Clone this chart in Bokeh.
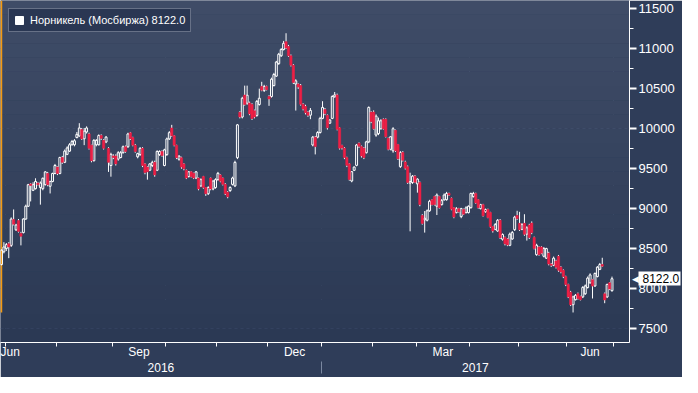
import numpy as np
import pandas as pd
from bokeh.plotting import figure
from bokeh.models import (FixedTicker, LinearAxis, Range1d, Legend, LegendItem,
                          BoxAnnotation)
from bokeh.embed import file_html
from bokeh.resources import INLINE

# ---------------- data ----------------
TITLE = "Норникель (Мосбиржа) 8122.0"
LAST = 8122.0
HOLIDAYS = ["2016-11-04", "2017-01-02", "2017-02-23", "2017-02-24", "2017-03-08",
            "2017-05-01", "2017-05-08", "2017-05-09", "2017-06-12"]

opens = [8300, 8460, 8500, 8560, 8540, 8865, 8735, 8850, 8690, 8700, 8870, 9030, 9310, 9230, 9250, 9320,
         9265, 9250, 9300, 9440, 9280, 9340, 9440, 9520, 9440, 9640, 9580, 9680, 9720, 9800, 9800, 9890,
         9910, 9990, 9875, 9960, 9935, 9795, 9600, 9800, 9800, 9915, 9855, 9835, 9755, 9540, 9660, 9660,
         9620, 9640, 9700, 9775, 9775, 9950, 9890, 9795,
         9649, 9677, 9755, 9560, 9520, 9481, 9540, 9580, 9481, 9677, 9716, 9540, 9677, 9873, 10010, 9912,
         9794, 9618, 9638, 9560, 9481, 9402, 9461, 9442, 9383, 9383, 9285, 9402, 9265, 9187, 9383, 9246,
         9265, 9363, 9422, 9383, 9304, 9206, 9226, 9304, 9285, 9638, 10206, 10147, 10422, 10320, 10324,
         10304, 10226, 10167, 10304,
         10530, 10480, 10530, 10404, 10404, 10541, 10659, 10816, 10914, 10992, 11090, 11031, 10914, 10796,
         10560, 10561, 10541, 10306, 10280, 10208, 10170, 9797, 9895, 9895, 9953, 10130, 10240, 10169,
         10070, 10130, 10400, 10424, 10012, 9790, 9757, 9640, 9561, 9346, 9480, 9542, 9820, 9777, 9757,
         9700, 9836, 10208, 10210, 9921, 9940, 10000, 10118, 10118, 9881, 9743, 9724, 9980, 9802, 9526,
         9704, 9585, 9526, 9320, 9328, 9407, 9310, 9328, 8914, 8860, 8855, 8973, 9110, 9151, 9030, 9151,
         9050, 9110, 9112, 9190, 9131, 9012, 8950, 9000, 8900, 8990, 8950, 8950, 9012, 9150, 9190, 9112,
         9000, 9050, 8960, 8990, 8953, 8776, 8740, 8720, 8855,
         8617, 8640, 8620, 8541, 8620, 8737, 8914, 8816, 8740, 8816, 8680, 8796, 8820, 8639, 8424, 8520,
         8520, 8404, 8380, 8443, 8306, 8290, 8345, 8404, 8267, 8228, 8149, 8051, 7954, 7797, 7860, 7935,
         7900, 7895, 7934, 8012, 8071, 8110, 8032, 8149, 8240, 8300, 7934, 7895, 8071, 7973]
highs = [8490, 8580, 8570, 8580, 8890, 8990, 8810, 8870, 8710, 8880, 9050, 9310, 9320, 9330, 9380, 9330,
         9340, 9390, 9470, 9460, 9350, 9450, 9560, 9530, 9650, 9660, 9740, 9780, 9820, 9860, 9870, 9960,
         10070, 10010, 10010, 10030, 9950, 9800, 9870, 9870, 9930, 9930, 9870, 9910, 9770, 9700, 9680, 9680,
         9720, 9720, 9790, 9790, 9950, 9960, 9900, 9810,
         9700, 9770, 9770, 9570, 9530, 9570, 9600, 9600, 9730, 9730, 9730, 9750, 9890, 9970, 10049, 9920,
         9800, 9670, 9650, 9570, 9490, 9470, 9470, 9450, 9470, 9390, 9380, 9410, 9270, 9280, 9390, 9360,
         9380, 9460, 9430, 9390, 9320, 9220, 9280, 9400, 9600, 10060, 10220, 10400, 10540, 10540, 10340,
         10320, 10240, 10360, 10502,
         10588, 10550, 10540, 10420, 10640, 10700, 10850, 10950, 11010, 11100, 11196, 11050, 10930, 10810,
         10620, 10570, 10560, 10320, 10300, 10220, 10260, 9910, 9910, 9970, 10150, 10345, 10260, 10180,
         10120, 10420, 10460, 10440, 10020, 9800, 9770, 9650, 9570, 9470, 9530, 9810, 9830, 9790, 9770,
         9850, 10280, 10220, 10230, 10180, 10140, 10120, 10130, 10130, 9890, 9910, 10020, 9990, 9810, 9720,
         9720, 9600, 9540, 9450, 9420, 9420, 9380, 9340, 8930, 8970, 8990, 9110, 9120, 9160, 9190, 9160,
         9120, 9190, 9210, 9200, 9140, 9020, 9020, 9010, 9010, 9000, 9030, 9040, 9200, 9210, 9200, 9120,
         9060, 9060, 9000, 9000, 8960, 8780, 8820, 8870, 8870,
         8690, 8650, 8630, 8700, 8720, 8910, 8973, 8960, 8820, 8930, 8780, 8810, 8840, 8650, 8560, 8530,
         8530, 8520, 8510, 8460, 8320, 8400, 8360, 8420, 8280, 8240, 8160, 8060, 7970, 7910, 7930, 7950,
         7910, 8030, 8050, 8150, 8190, 8120, 8200, 8280, 8320, 8385, 7950, 8060, 8080, 8149]
lows = [8290, 8440, 8470, 8380, 8520, 8790, 8720, 8700, 8540, 8690, 8860, 9020, 9090, 9220, 9240, 9290,
        9050, 9230, 9290, 9280, 9190, 9330, 9430, 9420, 9430, 9560, 9570, 9670, 9710, 9790, 9780, 9880,
        9900, 9860, 9795, 9940, 9740, 9580, 9590, 9780, 9790, 9860, 9740, 9820, 9460, 9400, 9620, 9540,
        9600, 9630, 9690, 9700, 9760, 9860, 9780, 9700,
        9630, 9660, 9520, 9430, 9363, 9470, 9520, 9400, 9470, 9660, 9650, 9530, 9660, 9860, 9900, 9780,
        9620, 9600, 9500, 9480, 9370, 9390, 9390, 9370, 9370, 9230, 9270, 9250, 9160, 9170, 9230, 9230,
        9250, 9350, 9330, 9290, 9170, 9130, 9210, 9290, 9270, 9620, 10130, 10130, 10290, 10300, 10170,
        10110, 10130, 10150, 10290,
        10470, 10460, 10480, 10287, 10390, 10530, 10650, 10800, 10900, 10980, 11000, 10900, 10780, 10560,
        10228, 10500, 10290, 10230, 10180, 10150, 10120, 9780, 9679, 9880, 9940, 10120, 10170, 9990,
        10060, 10120, 10390, 9980, 9740, 9740, 9620, 9520, 9350, 9330, 9470, 9530, 9760, 9640, 9620,
        9690, 9820, 10070, 9990, 9900, 9920, 9990, 9990, 9890, 9730, 9730, 9700, 9710, 9610, 9510,
        9590, 9490, 9310, 8716, 9310, 9320, 9200, 9030, 8800, 8700, 8840, 8960, 9040, 9040, 8920, 9000,
        9040, 9100, 9100, 9160, 8980, 8880, 8940, 8950, 8880, 8920, 8940, 8940, 9000, 9140, 9060, 9000,
        8990, 8900, 8950, 8880, 8760, 8700, 8730, 8710, 8620,
        8600, 8540, 8530, 8530, 8610, 8720, 8860, 8720, 8730, 8660, 8600, 8620, 8680, 8490, 8410, 8410,
        8430, 8390, 8370, 8290, 8270, 8280, 8250, 8210, 8190, 8130, 8030, 7880, 7780, 7700, 7850, 7860,
        7850, 7880, 7920, 8000, 8060, 7875, 8020, 8140, 8230, 8270, 7816, 7880, 7980, 7960]
closes = [8480, 8520, 8550, 8520, 8870, 8805, 8795, 8715, 8655, 8870, 9030, 9300, 9290, 9300, 9340, 9300,
          9320, 9380, 9460, 9300, 9340, 9440, 9540, 9440, 9640, 9580, 9720, 9760, 9800, 9840, 9850, 9930,
          10010, 9875, 9970, 10010, 9755, 9600, 9855, 9855, 9915, 9880, 9755, 9895, 9580, 9680, 9640, 9560,
          9700, 9700, 9775, 9715, 9935, 9875, 9795, 9715,
          9689, 9755, 9540, 9453, 9461, 9560, 9580, 9422, 9716, 9716, 9665, 9736, 9873, 9951, 9912, 9794,
          9638, 9657, 9520, 9500, 9383, 9461, 9402, 9383, 9461, 9246, 9363, 9265, 9187, 9265, 9246, 9344,
          9363, 9442, 9344, 9304, 9187, 9148, 9265, 9383, 9579, 10049, 10147, 10382, 10304, 10420, 10186,
          10128, 10147, 10343, 10382,
          10483, 10530, 10490, 10373, 10620, 10679, 10835, 10933, 10992, 11070, 11012, 10914, 10796, 10580,
          10600, 10522, 10306, 10247, 10200, 10169, 10230, 9895, 9777, 9953, 10130, 10267, 10190, 10012,
          10110, 10404, 10424, 9993, 9757, 9760, 9640, 9542, 9365, 9463, 9520, 9797, 9780, 9659, 9640,
          9836, 10267, 10090, 10000, 10158, 10100, 10100, 10000, 9901, 9743, 9900, 10000, 9724, 9625, 9704,
          9605, 9506, 9328, 9340, 9407, 9330, 9370, 9052, 8815, 8880, 8973, 9092, 9050, 9052, 9170, 9012,
          9100, 9170, 9190, 9170, 8993, 8894, 9000, 8960, 9000, 8930, 9010, 9030, 9190, 9190, 9072, 9012,
          9050, 8910, 8990, 8890, 8776, 8720, 8800, 8855, 8637,
          8676, 8560, 8545, 8680, 8700, 8894, 8875, 8737, 8800, 8678, 8760, 8639, 8700, 8502, 8541, 8424,
          8443, 8500, 8500, 8306, 8290, 8380, 8267, 8228, 8208, 8149, 8051, 7895, 7797, 7895, 7915, 7875,
          7860, 8012, 8032, 8130, 8170, 8030, 8189, 8267, 8300, 8280, 7856, 8051, 7993, 8122]

MONTH_LABELS = ["Jun", "Sep", "Dec", "Mar", "Jun"]
YEAR_LABELS = ["2016", "2017"]
Y_TICKS = [7500, 8000, 8500, 9000, 9500, 10000, 10500, 11000, 11500]

# ---------------- trading calendar ----------------
n = len(closes)
dates = pd.bdate_range("2016-06-29", "2017-06-28")
dates = dates[~dates.isin(pd.to_datetime(HOLIDAYS))]
if len(dates) != n:
    dates = pd.bdate_range("2016-06-29", periods=n)
dv = dates.values

o = np.array(opens, float); h = np.array(highs, float)
l = np.array(lows, float); c = np.array(closes, float)
xi = np.arange(n)
up = c >= o
dn = ~up
btop = np.maximum(o, c); bbot = np.minimum(o, c)

# ---------------- style ----------------
BG_TOP = (63, 76, 103)
BG_BOT = (43, 57, 84)
BORDER = "#2f3d59"
RED = "#ee1f45"
GRID = "#5a6e8e"
FONT = "Liberation Sans"
X0, X1 = -0.4, 258.2
Y0, Y1 = 7324, 11606

p = figure(width=682, height=377, output_backend="svg", toolbar_location=None,
           x_range=Range1d(X0, X1), y_range=Range1d(Y0, Y1),
           y_axis_location="right", min_border_left=0, min_border_top=0,
           min_border_right=48, min_border_bottom=35)
p.background_fill_color = BORDER
p.border_fill_color = BORDER
p.outline_line_color = None

# vertical gradient of the plot area
NB = 24
for k in range(NB):
    t = k / (NB - 1)
    col = tuple(int(round(BG_BOT[j] + (BG_TOP[j] - BG_BOT[j]) * t)) for j in range(3))
    p.add_layout(BoxAnnotation(bottom=Y0 + (Y1 - Y0) * k / NB - 1,
                               top=Y0 + (Y1 - Y0) * (k + 1) / NB + 1,
                               fill_color="#%02x%02x%02x" % col, fill_alpha=1,
                               line_color=None, level="underlay"))

# month boundaries
def boundary(d):
    return float(np.searchsorted(dv, np.datetime64(d))) - 0.5

mstarts = pd.date_range("2016-07-01", "2017-07-01", freq="MS")
mb = {d.strftime("%Y-%m"): boundary(d) for d in mstarts}
quarters = [mb["2016-07"], mb["2016-10"], mb["2017-01"], mb["2017-04"], mb["2017-07"]]
label_pos = [max((X0 + mb["2016-07"]) / 2, X0 + 3.6),
             (mb["2016-09"] + mb["2016-10"]) / 2,
             (mb["2016-12"] + mb["2017-01"]) / 2,
             (mb["2017-03"] + mb["2017-04"]) / 2,
             (mb["2017-06"] + mb["2017-07"]) / 2]
year_pos = [(X0 + mb["2017-01"]) / 2, (mb["2017-01"] + X1) / 2]

# grids
p.xgrid.ticker = FixedTicker(ticks=quarters)
p.ygrid.ticker = FixedTicker(ticks=Y_TICKS)
for g in (p.xgrid[0], p.ygrid[0]):
    g.grid_line_color = GRID
    g.grid_line_dash = "3 3"
    g.grid_line_width = 1

# orange marker line at the left edge
p.segment(x0=[X0 + 0.3], y0=[Y1], x1=[X0 + 0.3], y1=[l.min()],
          line_color="#f39a12", line_width=2)

# candles
p.segment(x0=xi, y0=h, x1=xi, y1=btop, line_color="white", line_width=1)
p.segment(x0=xi, y0=bbot, x1=xi, y1=l, line_color="white", line_width=1)
p.vbar(x=xi[up], top=c[up], bottom=o[up], width=0.8, fill_alpha=0,
       line_color="white", line_width=1)
p.vbar(x=xi[dn], top=o[dn], bottom=c[dn], width=0.95, fill_color=RED,
       line_color=RED, line_width=0.5)

# right axis
ya = p.yaxis[0]
ya.ticker = FixedTicker(ticks=Y_TICKS, minor_ticks=list(range(7250, 11751, 250)))
ya.axis_line_color = "white"
ya.major_tick_line_color = "white"
ya.major_tick_line_width = 2
ya.major_tick_out = 7
ya.major_tick_in = 0
ya.minor_tick_line_color = "white"
ya.minor_tick_out = 4
ya.minor_tick_in = 0
ya.major_label_text_color = "white"
ya.major_label_text_font = FONT
ya.major_label_text_font_size = "13px"
ya.major_label_standoff = 2

# small pointer at the left of the last-price tag
ptr_ax = LinearAxis(ticker=FixedTicker(ticks=[LAST]))
ptr_ax.major_label_overrides = {LAST: "◀"}
ptr_ax.axis_line_color = None
ptr_ax.major_tick_line_color = None
ptr_ax.minor_tick_line_color = None
ptr_ax.major_tick_out = 0
ptr_ax.major_tick_in = 0
ptr_ax.minor_tick_out = 0
ptr_ax.minor_tick_in = 0
ptr_ax.major_label_text_color = "white"
ptr_ax.major_label_text_font_size = "9px"
ptr_ax.major_label_standoff = -46
p.add_layout(ptr_ax, "right")

# last-price tag: a right axis whose inward tick forms the white box
# and whose single label is pulled back over it
tag_ax = LinearAxis(ticker=FixedTicker(ticks=[LAST]))
tag_ax.major_label_overrides = {LAST: "%.1f" % LAST}
tag_ax.axis_line_color = None
tag_ax.major_tick_line_color = "white"
tag_ax.major_tick_line_width = 14
tag_ax.major_tick_line_cap = "butt"
tag_ax.major_tick_out = 3
tag_ax.major_tick_in = 39
tag_ax.minor_tick_line_color = None
tag_ax.minor_tick_out = 0
tag_ax.minor_tick_in = 0
tag_ax.major_label_text_color = "black"
tag_ax.major_label_text_font = FONT
tag_ax.major_label_text_font_size = "12px"
tag_ax.major_label_standoff = -38
p.add_layout(tag_ax, "right")

# bottom axis: months
xa = p.xaxis[0]
xa.ticker = FixedTicker(ticks=label_pos, minor_ticks=[mb[k] for k in mb])
xa.major_label_overrides = {pos: lab for pos, lab in zip(label_pos, MONTH_LABELS)}
xa.axis_line_color = "white"
xa.major_tick_out = 0
xa.major_tick_in = 0
xa.minor_tick_line_color = "white"
xa.minor_tick_out = 4
xa.minor_tick_in = 0
xa.major_label_text_color = "white"
xa.major_label_text_font = FONT
xa.major_label_text_font_size = "12px"
xa.major_label_standoff = -2

# bottom axis: years (with the year separator as a long minor tick)
yr = LinearAxis(ticker=FixedTicker(ticks=year_pos, minor_ticks=[mb["2017-01"]]))
yr.major_label_overrides = {pos: lab for pos, lab in zip(year_pos, YEAR_LABELS)}
yr.axis_line_color = None
yr.major_tick_out = 0
yr.major_tick_in = 0
yr.minor_tick_line_color = "#7b88a0"
yr.minor_tick_out = 12
yr.minor_tick_in = 0
yr.major_label_text_color = "white"
yr.major_label_text_font = FONT
yr.major_label_text_font_size = "12px"
yr.major_label_standoff = -11
p.add_layout(yr, "below")

# legend
lg_r = p.quad(left=[np.nan], right=[np.nan], top=[np.nan], bottom=[np.nan],
              fill_color="white", line_color="white")
legend = Legend(items=[LegendItem(label=TITLE, renderers=[lg_r])], location="top_left")
legend.background_fill_color = "#2a3753"
legend.background_fill_alpha = 1
legend.border_line_color = "#a3abbb"
legend.border_line_width = 1
legend.label_text_color = "white"
legend.label_text_font = FONT
legend.label_text_font_size = "11px"
legend.glyph_width = 10
legend.glyph_height = 10
legend.label_standoff = 6
legend.padding = 5
legend.margin = 8
legend.spacing = 0
p.add_layout(legend)

open("out.html", "w").write(file_html(p, INLINE))
